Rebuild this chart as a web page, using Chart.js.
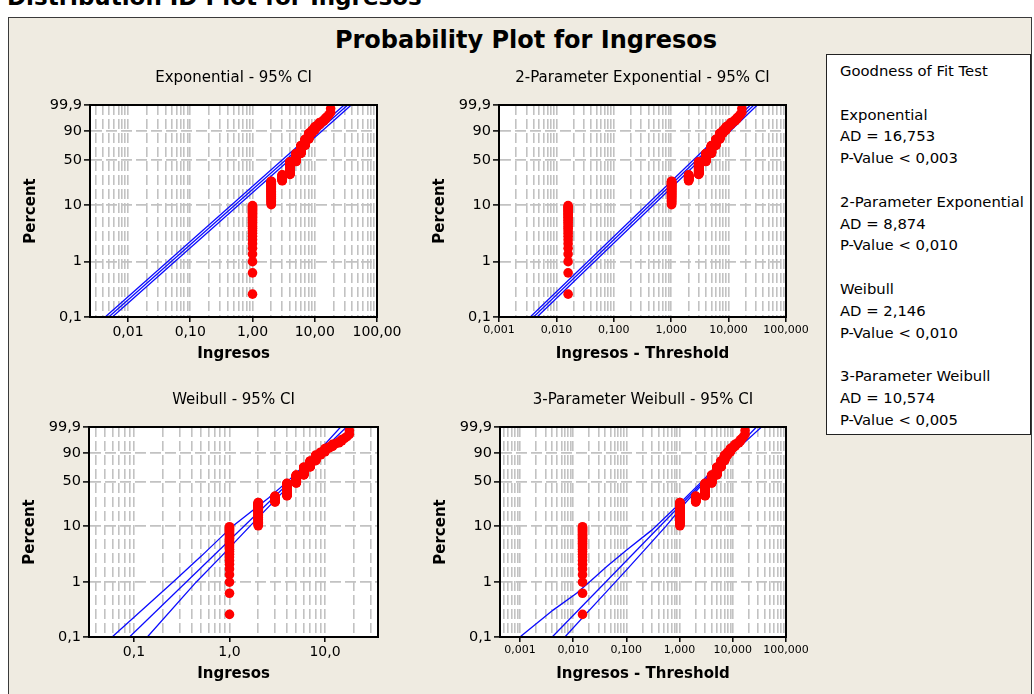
<!DOCTYPE html>
<html>
<head>
<meta charset="utf-8">
<title>Distribution ID Plot for Ingresos</title>
<script src="https://cdn.jsdelivr.net/npm/chart.js@4.4.1/dist/chart.umd.min.js"></script>
<style>
  html, body { margin: 0; padding: 0; background: #ffffff; }
  body { width: 1034px; height: 694px; position: relative; overflow: hidden; font-family: "DejaVu Sans", sans-serif; color: #000; }
  #heading { position: absolute; left: 7px; top: -15px; font: bold 23px/24px "DejaVu Sans", sans-serif; white-space: nowrap; }
  #frame { position: absolute; left: 8px; top: 17px; width: 1024px; height: 720px; box-sizing: border-box;
           background: #efebe1; border: 1px solid #3a3a3a; }
  #mainTitle { position: absolute; left: 326px; width: 400px; top: 26px; text-align: center;
               font: bold 24px/28px "DejaVu Sans", sans-serif; white-space: nowrap; }
  #gof { position: absolute; left: 826px; top: 54px; width: 205px; height: 381px; box-sizing: border-box;
         background: #ffffff; border: 1px solid #222; padding: 5px 0 0 13px;
         font: 14.8px/21.8px "DejaVu Sans", sans-serif; white-space: nowrap; }
  canvas { position: absolute; }
</style>
</head>
<body>
<div id="heading">Distribution ID Plot for Ingresos</div>
<div id="frame"></div>
<div id="mainTitle">Probability Plot for Ingresos</div>
<canvas id="pExp"></canvas>
<canvas id="pExp2"></canvas>
<canvas id="pWei"></canvas>
<canvas id="pWei3"></canvas>
<div id="gof">
  <div>Goodness of Fit Test</div>
  <div>&nbsp;</div>
  <div>Exponential</div>
  <div>AD = 16,753</div>
  <div>P-Value &lt; 0,003</div>
  <div>&nbsp;</div>
  <div>2-Parameter Exponential</div>
  <div>AD = 8,874</div>
  <div>P-Value &lt; 0,010</div>
  <div>&nbsp;</div>
  <div>Weibull</div>
  <div>AD = 2,146</div>
  <div>P-Value &lt; 0,010</div>
  <div>&nbsp;</div>
  <div>3-Parameter Weibull</div>
  <div>AD = 10,574</div>
  <div>P-Value &lt; 0,005</div>
</div>

<script>
// ---- sample: Ingresos values and how many observations share each value ----
const INGRESOS_VALUES = [1, 2, 3, 4, 5, 6, 7, 8, 9, 10, 11, 12, 13, 14, 15, 16, 17, 18];
const INGRESOS_COUNTS = [27, 41, 17, 44, 33, 33, 24, 19, 8, 8, 3, 4, 1, 2, 2, 1, 1, 2];

// estimated thresholds of the shifted fits
const THRESHOLD_2P_EXP = 0.984;
const THRESHOLD_3P_WEIBULL = 0.985;

// probability axis
const PERCENT_TICKS = [0.1, 1, 10, 50, 90, 99.9];
const PERCENT_LABELS = ['0,1', '1', '10', '50', '90', '99,9'];

// value axes: labelled decades
const X_TICKS_EXP = [0.01, 0.1, 1, 10, 100];
const X_LABELS_EXP = ['0,01', '0,10', '1,00', '10,00', '100,00'];
const X_TICKS_SHIFTED = [0.001, 0.01, 0.1, 1, 10, 100];
const X_LABELS_SHIFTED = ['0,001', '0,010', '0,100', '1,000', '10,000', '100,000'];
const X_TICKS_WEI = [0.1, 1, 10];
const X_LABELS_WEI = ['0,1', '1,0', '10,0'];

// fitted lines and 95% confidence bounds, as [value, percent] pairs
const EXP_FIT   = [[0.0049, 0.1], [33.8, 99.9]];
const EXP_LOWER = [[0.0056, 0.1], [38.6, 99.9]];
const EXP_UPPER = [[0.0043, 0.1], [29.7, 99.9]];

const EXP2_FIT   = [[0.0040, 0.1], [27.6, 99.9]];
const EXP2_LOWER = [[0.0046, 0.1], [31.6, 99.9]];
const EXP2_UPPER = [[0.00350, 0.1], [24.1, 99.9]];

const WEI_FIT   = [[0.0897, 0.1], [16.8, 99.9]];
const WEI_UPPER = [[0.059, 0.1], [0.255, 1], [0.51, 3], [1.07, 10], [2.6, 30], [4.03, 50], [8.2, 90], [14.6, 99.9]];
const WEI_LOWER = [[0.138, 0.1], [0.447, 1], [0.83, 3], [1.63, 10], [3.2, 30], [4.6, 50], [9.4, 90], [19.3, 99.9]];

const WEI3_FIT   = [[0.00404, 0.1], [27.9, 99.9]];
const WEI3_UPPER = [[0.001, 0.1], [0.0042, 0.31], [0.0116, 0.63], [0.0205, 1.02], [0.0423, 1.9], [0.1, 3.8],
                    [0.30, 8.6], [1.05, 25], [2.6, 50], [8.6, 90], [20.6, 99.9]];
const WEI3_LOWER = [[0.007, 0.1], [0.0178, 0.27], [0.1, 1.66], [0.55, 10], [1.3, 25], [3.0, 50], [10.0, 90], [34.6, 99.9]];

// ---- helpers ----
const FONT = '"DejaVu Sans", sans-serif';
const RED = '#ff0000';
const BLUE = '#0a0aff';
const GRID = '#c2c2c2';

// Weibull probability scale: ln(-ln(1-p))
function wb(percent) { return Math.log(-Math.log(1 - percent / 100)); }

// median-rank plotting positions, one point per observation
function plottingPositions(values, counts, shift) {
  const n = counts.reduce((a, b) => a + b, 0);
  const pts = [];
  let i = 0;
  values.forEach((v, k) => {
    for (let j = 0; j < counts[k]; j++) {
      i++;
      pts.push({ x: v - shift, y: wb(100 * (i - 0.3) / (n + 0.4)) });
    }
  });
  return pts;
}

function toXY(pairs) { return pairs.map(([x, p]) => ({ x: x, y: wb(p) })); }

function logGridValues(min, max) {
  const out = [];
  for (let e = Math.floor(Math.log10(min)); e <= Math.ceil(Math.log10(max)); e++) {
    for (let m = 1; m < 10; m++) {
      const v = m * Math.pow(10, e);
      if (v >= min * 0.9999 && v <= max * 1.0001) out.push(v);
    }
  }
  return out;
}

function decadeIndex(v, decades) {
  for (let i = 0; i < decades.length; i++) {
    if (Math.abs(Math.log10(v) - Math.log10(decades[i])) < 1e-6) return i;
  }
  return -1;
}

const plotFrame = {
  id: 'plotFrame',
  beforeDraw(chart) {
    const { ctx, chartArea: a } = chart;
    ctx.save();
    ctx.fillStyle = '#ffffff';
    ctx.fillRect(a.left, a.top, a.width, a.height);
    ctx.restore();
  },
  afterDraw(chart) {
    const { ctx, chartArea: a } = chart;
    ctx.save();
    ctx.strokeStyle = '#000000';
    ctx.lineWidth = 2;
    ctx.strokeRect(a.left, a.top, a.width, a.height);
    ctx.restore();
  }
};

const SIDE = 74, ABOVE = 50, BELOW = 50;

function makePanel(id, spec) {
  const { plot, xMin, xMax, decades, decadeLabels, xFontSize, title, xTitle, points, lines } = spec;
  const canvas = document.getElementById(id);
  const cw = (plot.r - plot.l) + 2 * SIDE;
  const ch = (plot.b - plot.t) + ABOVE + BELOW;
  canvas.width = cw;
  canvas.height = ch;
  canvas.style.left = (plot.l - SIDE) + 'px';
  canvas.style.top = (plot.t - ABOVE) + 'px';
  canvas.style.width = cw + 'px';
  canvas.style.height = ch + 'px';

  const gridValues = logGridValues(xMin, xMax);

  const datasets = [{
    data: points,
    backgroundColor: RED,
    borderWidth: 0,
    pointRadius: 4.8,
    pointHoverRadius: 4.8,
    showLine: false
  }];
  lines.forEach(l => datasets.push({
    data: toXY(l),
    showLine: true,
    borderColor: BLUE,
    borderWidth: 1.3,
    pointRadius: 0,
    fill: false
  }));

  return new Chart(canvas, {
    type: 'scatter',
    data: { datasets: datasets },
    options: {
      responsive: false,
      animation: false,
      events: [],
      layout: { padding: { left: 0, right: SIDE, top: 0, bottom: 0 } },
      plugins: {
        legend: { display: false },
        tooltip: { enabled: false },
        title: {
          display: true, text: title, fullSize: false, color: '#000',
          font: { family: FONT, size: 15, weight: 'normal' },
          padding: { top: 14.5, bottom: 17.5 }
        }
      },
      scales: {
        x: {
          type: 'logarithmic', min: xMin, max: xMax, bounds: 'data',
          afterBuildTicks: s => { s.ticks = gridValues.map(v => ({ value: v })); },
          afterFit: s => { s.height = BELOW; },
          ticks: {
            autoSkip: false, maxRotation: 0, minRotation: 0, padding: 2, color: '#000',
            font: { family: FONT, size: xFontSize },
            callback: v => { const i = decadeIndex(v, decades); return i >= 0 ? decadeLabels[i] : ''; }
          },
          grid: {
            color: GRID, lineWidth: 1.6, tickLength: 5, tickWidth: 1.5,
            tickColor: c => (c.tick && decadeIndex(c.tick.value, decades) >= 0) ? '#000' : 'rgba(0,0,0,0)'
          },
          border: { display: true, color: '#000', width: 2, dash: [10, 4] },
          title: {
            display: true, text: xTitle, color: '#000',
            font: { family: FONT, size: 15, weight: 'bold' },
            padding: { top: 0, bottom: 4 }
          }
        },
        y: {
          type: 'linear', min: wb(0.1), max: wb(99.9), bounds: 'data',
          afterBuildTicks: s => { s.ticks = PERCENT_TICKS.map(p => ({ value: wb(p) })); },
          afterFit: s => { s.width = SIDE; },
          ticks: {
            autoSkip: false, padding: 2, color: '#000',
            font: { family: FONT, size: 14.5 },
            callback: (v, i) => PERCENT_LABELS[i]
          },
          grid: {
            color: c => (c.index === 0 || c.index === PERCENT_TICKS.length - 1) ? 'rgba(0,0,0,0)' : GRID,
            lineWidth: 1.8, tickLength: 6, tickWidth: 1.5, tickColor: '#000'
          },
          border: { display: true, color: '#000', width: 2, dash: [11, 4] },
          title: {
            display: true, text: 'Percent', color: '#000',
            font: { family: FONT, size: 15, weight: 'bold' },
            padding: { top: 6, bottom: 0 }
          }
        }
      }
    },
    plugins: [plotFrame]
  });
}

makePanel('pExp', {
  plot: { l: 90, r: 377, t: 105, b: 317 },
  xMin: 0.00245, xMax: 100,
  decades: X_TICKS_EXP, decadeLabels: X_LABELS_EXP, xFontSize: 14,
  title: 'Exponential - 95% CI', xTitle: 'Ingresos',
  points: plottingPositions(INGRESOS_VALUES, INGRESOS_COUNTS, 0),
  lines: [EXP_FIT, EXP_LOWER, EXP_UPPER]
});

makePanel('pExp2', {
  plot: { l: 499, r: 786, t: 105, b: 317 },
  xMin: 0.001, xMax: 100,
  decades: X_TICKS_SHIFTED, decadeLabels: X_LABELS_SHIFTED, xFontSize: 11,
  title: '2-Parameter Exponential - 95% CI', xTitle: 'Ingresos - Threshold',
  points: plottingPositions(INGRESOS_VALUES, INGRESOS_COUNTS, THRESHOLD_2P_EXP),
  lines: [EXP2_FIT, EXP2_LOWER, EXP2_UPPER]
});

makePanel('pWei', {
  plot: { l: 89, r: 378, t: 427, b: 637 },
  xMin: 0.0338, xMax: 35.9,
  decades: X_TICKS_WEI, decadeLabels: X_LABELS_WEI, xFontSize: 14,
  title: 'Weibull - 95% CI', xTitle: 'Ingresos',
  points: plottingPositions(INGRESOS_VALUES, INGRESOS_COUNTS, 0),
  lines: [WEI_FIT, WEI_UPPER, WEI_LOWER]
});

makePanel('pWei3', {
  plot: { l: 500, r: 786, t: 427, b: 637 },
  xMin: 0.000422, xMax: 100,
  decades: X_TICKS_SHIFTED, decadeLabels: X_LABELS_SHIFTED, xFontSize: 11,
  title: '3-Parameter Weibull - 95% CI', xTitle: 'Ingresos - Threshold',
  points: plottingPositions(INGRESOS_VALUES, INGRESOS_COUNTS, THRESHOLD_3P_WEIBULL),
  lines: [WEI3_FIT, WEI3_UPPER, WEI3_LOWER]
});
</script>
</body>
</html>
